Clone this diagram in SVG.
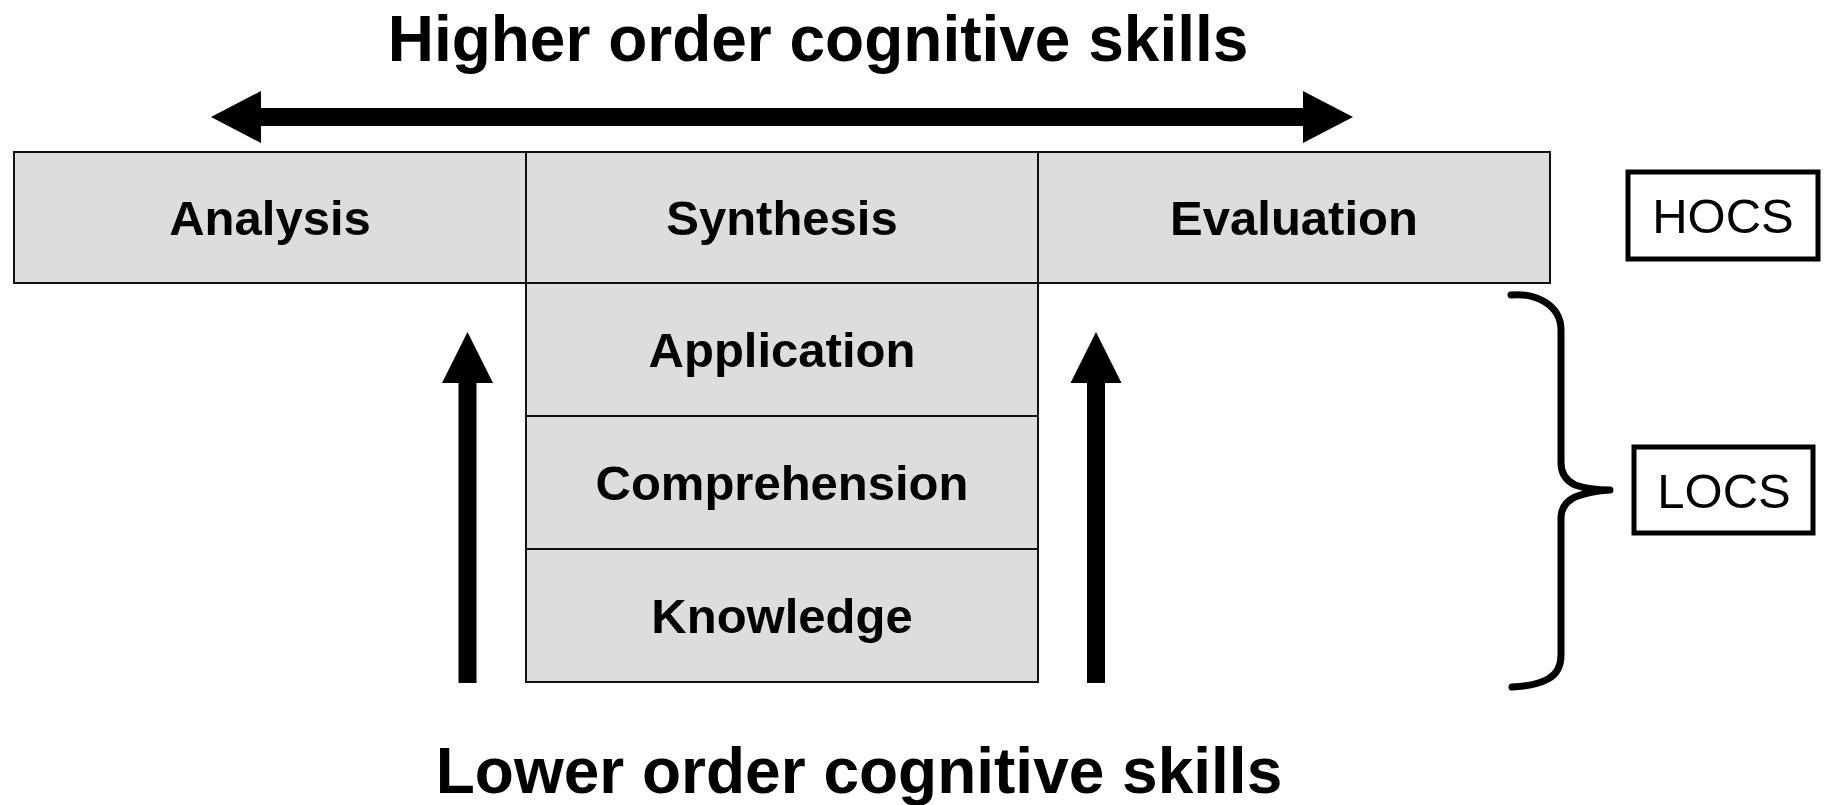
<svg xmlns="http://www.w3.org/2000/svg" width="1824" height="805" viewBox="0 0 1824 805">
<style>
.box{fill:#dddddd;stroke:#111;stroke-width:2}
.lbl{font-family:"Liberation Sans",Arial,sans-serif;font-weight:bold;font-size:49px;fill:#000;text-anchor:middle}
.title{font-family:"Liberation Sans",Arial,sans-serif;font-weight:bold;font-size:64px;fill:#000;text-anchor:middle}
.tag{fill:#fff;stroke:#000;stroke-width:5}
.tagt{font-family:"Liberation Sans",Arial,sans-serif;font-size:49px;fill:#000;text-anchor:middle}
.arrow{fill:#000;stroke:none}
.brace{fill:none;stroke:#000;stroke-width:7;stroke-linecap:round;stroke-linejoin:round}
</style>
<rect width="1824" height="805" fill="#fff"/>
<text class="title" x="818" y="61">Higher order cognitive skills</text>
<text class="title" x="859" y="793">Lower order cognitive skills</text>
<g id="connectors">
<polygon class="arrow" points="211,117 261,91 261,108 1303,108 1303,91 1353,117 1303,143 1303,126 261,126 261,143"/>
<polygon class="arrow" points="467.5,332 493,383 476.5,383 476.5,683 458.5,683 458.5,383 442,383"/>
<polygon class="arrow" points="1096,332 1121.5,383 1105,383 1105,683 1087,683 1087,383 1070.5,383"/>
<path class="brace" d="M1511,295 Q1530,293 1545,302 Q1561,312 1561,330 L1561,463 Q1561,478 1575,485 Q1590,490 1610,490 Q1590,491 1575,497 Q1561,504 1561,518 L1561,655 Q1561,672 1548,679 Q1535,686 1512,687"/>
</g>
<g id="analysis"><rect class="box" x="14" y="152" width="512" height="131"/><text class="lbl" x="270" y="235">Analysis</text></g>
<g id="synthesis"><rect class="box" x="526" y="152" width="512" height="131"/><text class="lbl" x="782" y="235">Synthesis</text></g>
<g id="evaluation"><rect class="box" x="1038" y="152" width="512" height="131"/><text class="lbl" x="1294" y="235">Evaluation</text></g>
<g id="application"><rect class="box" x="526" y="283" width="512" height="133"/><text class="lbl" x="782" y="367">Application</text></g>
<g id="comprehension"><rect class="box" x="526" y="416" width="512" height="133"/><text class="lbl" x="782" y="500">Comprehension</text></g>
<g id="knowledge"><rect class="box" x="526" y="549" width="512" height="133"/><text class="lbl" x="782" y="633">Knowledge</text></g>
<g id="hocs"><rect class="tag" x="1628" y="172" width="190" height="87"/><text class="tagt" x="1723" y="233">HOCS</text></g>
<g id="locs"><rect class="tag" x="1634" y="447" width="179" height="86"/><text class="tagt" x="1724" y="508">LOCS</text></g>
</svg>
